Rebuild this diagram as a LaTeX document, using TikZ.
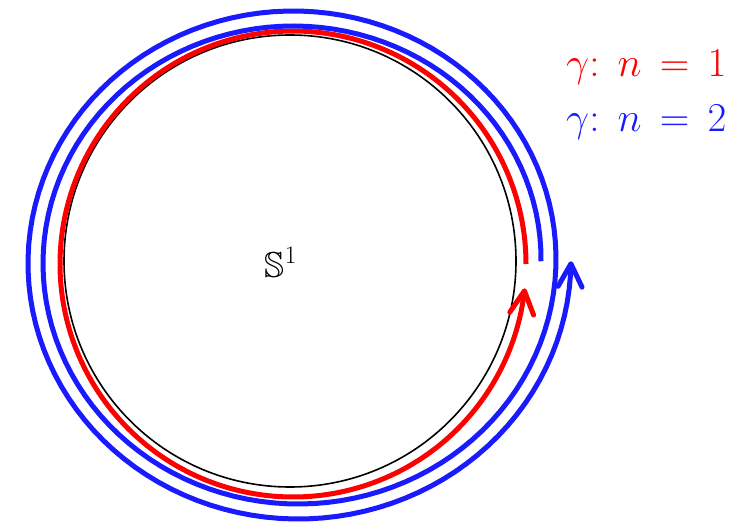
\RequirePackage{fix-cm}
\documentclass[tikz,border=0pt]{standalone}
\usepackage{amsmath,amssymb}
\DeclareFontFamily{U}{msb}{}
\DeclareFontShape{U}{msb}{m}{n}{<-> msbm10}{}
\usepackage{xcolor}
\usetikzlibrary{arrows.meta}
\definecolor{loopred}{HTML}{FF0000}
\definecolor{loopblue}{HTML}{1A1AFF}
\tikzset{
  wtip/.style={-{Straight Barb[length=23pt,width=24pt,round]}},
  windline/.style={line width=5pt,samples=240,wtip},
  lbl/.style={anchor=base west,inner sep=0pt,font=\fontsize{41}{46}\selectfont}
}

\begin{document}
\begin{tikzpicture}[x=1pt,y=-1pt]
\useasboundingbox (0,0) rectangle (743,526);
% the circle S^1
\draw[line width=1.6pt] (290,261) coordinate (c) circle[radius=226];
\node[font=\fontsize{36}{42}\selectfont,anchor=base,inner sep=0pt] (s1) at (281,277) {$\mathbb{S}^{\mathrm{1}}$};
% n = 1: once round
\draw[windline,loopred,domain=0:354] plot ({293+233*cos(\x)},{264-233*sin(\x)});
% n = 2: twice round, a slow spiral
\draw[windline,loopblue,domain=0:720] plot ({295.75+(245.25+\x/24)*cos(\x)},{261.25-(231.5+\x/24)*sin(\x)});
\node[lbl,loopred] (one) at (566,77) {$\gamma{:}\;\,n\,=\,1$};
\node[lbl,loopblue] (two) at (566,132) {$\gamma{:}\;\,n\,=\,2$};
\end{tikzpicture}
\end{document}
